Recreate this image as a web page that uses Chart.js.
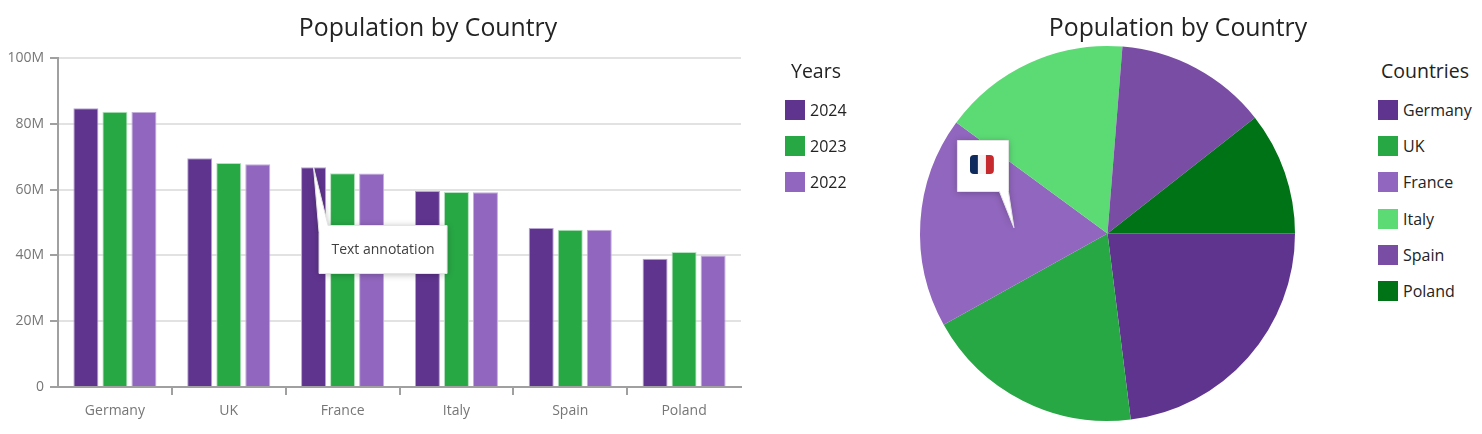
<!DOCTYPE html>
<html>
<head>
<meta charset="utf-8">
<title>Population by Country</title>
<script src="https://cdn.jsdelivr.net/npm/chart.js@4"></script>
<style>
  html, body { margin: 0; padding: 0; background: #fff; overflow: hidden; }
  body { width: 1482px; height: 434px; position: relative; font-family: "Open Sans", sans-serif; color: #232323; }
  canvas { position: absolute; top: 0; }
  #barChart { left: 0; }
  #pieChart { left: 874px; }
  .chartTitle { position: absolute; top: 9px; width: 500px; margin-left: -250px; text-align: center; font-size: 24.8px; line-height: 34px; }
  .legendTitle { position: absolute; top: 57px; width: 140px; margin-left: -70px; text-align: center; font-size: 19.5px; line-height: 28px; }
  .legendRow { position: absolute; height: 20px; line-height: 20px; font-size: 16px; white-space: nowrap; }
  .legendRow i { position: absolute; left: 0; top: 0; width: 20px; height: 20px; }
  .legendRow span { position: absolute; left: 25px; top: 0; }
</style>
</head>
<body>
<canvas id="barChart" width="760" height="434"></canvas>
<canvas id="pieChart" width="467" height="434"></canvas>
<div class="chartTitle" style="left:428px">Population by Country</div>
<div class="chartTitle" style="left:1178px">Population by Country</div>
<div class="legendTitle" style="left:816px">Years</div>
<div class="legendTitle" style="left:1425px">Countries</div>
<div id="yearLegend"></div>
<div id="countryLegend"></div>
<script>
// Dados (milhoes de habitantes)
const countries = ['Germany', 'UK', 'France', 'Italy', 'Spain', 'Poland'];
const years = ['2024', '2023', '2022'];
const pop2024 = [84.7, 69.5, 66.8, 59.6, 48.3, 39.0];
const pop2023 = [83.7, 68.1, 65.0, 59.3, 47.8, 41.0];
const pop2022 = [83.6, 67.7, 64.9, 59.2, 47.8, 40.0];
const yTicks = [0, 20, 40, 60, 80, 100];

const colors = ['#5f348e', '#28a745', '#9166be', '#5cdb75', '#7a4da5', '#007316'];
const borders = ['#b9a5d1', '#b5e2bf', '#c4aedb'];
const font = 'Open Sans';

// Legendas em HTML
function buildLegend(id, names, left) {
  const box = document.getElementById(id);
  names.forEach((name, i) => {
    const row = document.createElement('div');
    row.className = 'legendRow';
    row.style.left = left + 'px';
    row.style.top = (100 + i * 36.2) + 'px';
    row.innerHTML = '<i style="background:' + colors[i] + '"></i><span>' + name + '</span>';
    box.appendChild(row);
  });
}
buildLegend('yearLegend', years, 785);
buildLegend('countryLegend', countries, 1378);

// Sombra e contorno das caixas de anotacao
function paintCallout(ctx) {
  ctx.save();
  ctx.shadowColor = 'rgba(0,0,0,0.28)';
  ctx.shadowBlur = 7;
  ctx.shadowOffsetY = 1;
  ctx.fillStyle = '#fff';
  ctx.fill();
  ctx.restore();
  ctx.strokeStyle = '#e4e4e4';
  ctx.lineWidth = 1;
  ctx.stroke();
}

const textAnnotation = {
  id: 'textAnnotation',
  afterDatasetsDraw(chart) {
    const ctx = chart.ctx;
    const bar = chart.getDatasetMeta(0).data[2]; // France, 2024
    const x = bar.x + 5.5, y = 225.5;
    ctx.save();
    ctx.beginPath();
    ctx.moveTo(x + 9, y);
    ctx.lineTo(x + 128, y);
    ctx.lineTo(x + 128, y + 48);
    ctx.lineTo(x, y + 48);
    ctx.lineTo(x, y + 7);
    ctx.lineTo(bar.x, bar.y);
    ctx.closePath();
    paintCallout(ctx);
    ctx.fillStyle = '#3f3f3f';
    ctx.font = '14px "' + font + '"';
    ctx.textAlign = 'center';
    ctx.textBaseline = 'middle';
    ctx.fillText('Text annotation', x + 64, y + 25);
    ctx.restore();
  }
};

const flagAnnotation = {
  id: 'flagAnnotation',
  afterDatasetsDraw(chart) {
    const ctx = chart.ctx;
    const tip = chart.getDatasetMeta(0).data[2].getCenterPoint(); // France
    const x = tip.x - 56.5, y = 140.5;
    ctx.save();
    ctx.beginPath();
    ctx.moveTo(x, y);
    ctx.lineTo(x + 51, y);
    ctx.lineTo(x + 51, y + 51);
    ctx.lineTo(tip.x, tip.y);
    ctx.lineTo(x + 42, y + 51);
    ctx.lineTo(x, y + 51);
    ctx.closePath();
    paintCallout(ctx);
    // bandeira
    const fx = x + 12.5, fy = y + 14.5, fw = 24, fh = 19;
    ctx.beginPath();
    ctx.roundRect(fx, fy, fw, fh, 4);
    ctx.clip();
    ctx.fillStyle = '#0f2a5c';
    ctx.fillRect(fx, fy, fw / 3, fh);
    ctx.fillStyle = '#f4f4f4';
    ctx.fillRect(fx + fw / 3, fy, fw / 3, fh);
    ctx.fillStyle = '#c62a2f';
    ctx.fillRect(fx + 2 * fw / 3, fy, fw / 3, fh);
    ctx.restore();
  }
};

// Grafico de barras
new Chart(document.getElementById('barChart'), {
  type: 'bar',
  data: {
    labels: countries,
    datasets: [pop2024, pop2023, pop2022].map((values, i) => ({
      label: years[i],
      data: values,
      backgroundColor: colors[i],
      borderColor: borders[i],
      borderWidth: 1,
      categoryPercentage: 0.765,
      barPercentage: 0.862
    }))
  },
  options: {
    responsive: false,
    animation: false,
    layout: { padding: { top: 58, right: 19 } },
    plugins: { legend: { display: false }, title: { display: false }, tooltip: { enabled: false } },
    scales: {
      x: {
        afterFit: s => { s.height = 47; },
        border: { color: '#a0a0a0', width: 2 },
        grid: {
          offset: true,
          drawOnChartArea: false,
          tickLength: 8,
          lineWidth: 2,
          color: c => (c.type === 'tick' && c.index > 0) ? '#a0a0a0' : 'transparent'
        },
        ticks: { color: '#767676', padding: 8, font: { family: font, size: 14 } }
      },
      y: {
        min: 0,
        max: 100,
        afterFit: s => { s.width = 58; },
        afterBuildTicks: s => { s.ticks = yTicks.map(v => ({ value: v })); },
        border: { color: '#a0a0a0', width: 2 },
        grid: { color: '#e2e2e2', tickColor: '#a0a0a0', tickLength: 8, lineWidth: 2 },
        ticks: {
          color: '#767676',
          padding: 6,
          font: { family: font, size: 14 },
          callback: v => v === 0 ? '0' : v + 'M'
        }
      }
    }
  },
  plugins: [textAnnotation]
});

// Grafico de pizza
new Chart(document.getElementById('pieChart'), {
  type: 'pie',
  data: {
    labels: countries,
    datasets: [{ data: pop2024, backgroundColor: colors, borderWidth: 0 }]
  },
  options: {
    responsive: false,
    animation: false,
    rotation: 90,
    layout: { padding: { top: 46, bottom: 13 } },
    plugins: { legend: { display: false }, title: { display: false }, tooltip: { enabled: false } }
  },
  plugins: [flagAnnotation]
});
</script>
</body>
</html>
